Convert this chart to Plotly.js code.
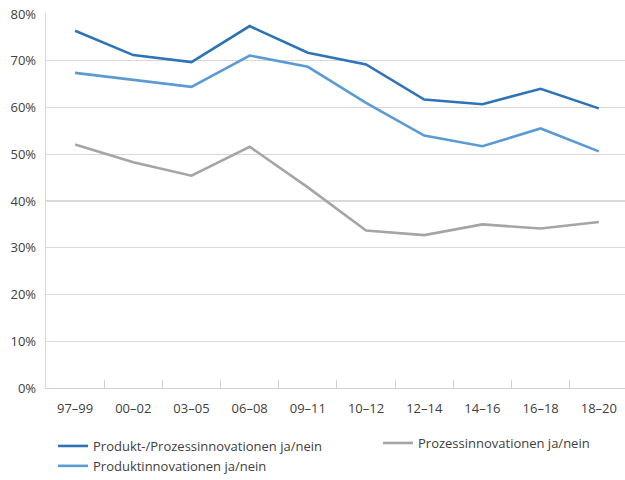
<!DOCTYPE html>
<html><head><meta charset="utf-8">
<script src="https://cdn.plot.ly/plotly-3.0.1.min.js"></script>
<style>html,body{margin:0;padding:0;overflow:hidden;background:#fff}</style>
</head><body><div id="chart" style="width:625px;height:480px"></div>
<script>
var categories = ["97–99","00–02","03–05","06–08","09–11","10–12","12–14","14–16","16–18","18–20"];
var produktProzess = [0.764, 0.712, 0.697, 0.774, 0.717, 0.692, 0.617, 0.607, 0.640, 0.598];
var produkt = [0.674, 0.659, 0.644, 0.711, 0.687, 0.610, 0.540, 0.517, 0.555, 0.506];
var prozess = [0.521, 0.483, 0.454, 0.516, 0.429, 0.337, 0.327, 0.350, 0.341, 0.355];
var names = ["Produkt-/Prozessinnovationen ja/nein","Produktinnovationen ja/nein","Prozessinnovationen ja/nein"];

var font = "'Open Sans', 'Noto Sans', sans-serif";
var traces = [
  {x: categories, y: produktProzess, name: names[0], type: "scatter", mode: "lines",
   line: {color: "#2e73b8", width: 2.6}, legend: "legend"},
  {x: categories, y: produkt, name: names[1], type: "scatter", mode: "lines",
   line: {color: "#5b9bd5", width: 2.6}, legend: "legend"},
  {x: categories, y: prozess, name: names[2], type: "scatter", mode: "lines",
   line: {color: "#a5a5a5", width: 2.6}, legend: "legend2"}
];
var PW = 579, PH = 375;
var layout = {
  width: 625, height: 480,
  margin: {l: 46, r: 0, t: 13, b: 92, autoexpand: false},
  paper_bgcolor: "#fff", plot_bgcolor: "#fff",
  font: {family: font, size: 13, color: "#404040"},
  showlegend: true,
  xaxis: {type: "category", range: [-0.5, 9.45], tickson: "boundaries", ticks: "inside",
    ticklen: 8, tickcolor: "#d0d0d0", tickwidth: 1, showgrid: false, showline: true,
    linecolor: "#d0d0d0", linewidth: 1.3, tickfont: {size: 13, color: "#404040"}, tickangle: 0,
    ticklabelstandoff: 8, fixedrange: true},
  yaxis: {range: [0, 0.802], dtick: 0.1, tickformat: ".0%", showgrid: true, gridcolor: "#d9d9d9",
    gridwidth: 1.3, showline: true, linecolor: "#d9d9d9", linewidth: 1.3, zeroline: false,
    ticks: "", ticklabelstandoff: 6, tickfont: {size: 13, color: "#404040"}},
  legend: {x: (53 - 46) / PW, y: (388 - 431) / PH, xanchor: "left", yanchor: "top",
    orientation: "v", font: {size: 13, color: "#404040"}, tracegroupgap: 0, itemwidth: 30, bgcolor: "rgba(0,0,0,0)"},
  legend2: {x: (378 - 46) / PW, y: (388 - 428) / PH, xanchor: "left", yanchor: "top",
    orientation: "v", font: {size: 13, color: "#404040"}, itemwidth: 30, bgcolor: "rgba(0,0,0,0)"}
};
Plotly.newPlot("chart", traces, layout, {displayModeBar: false, staticPlot: true});
</script></body></html>
